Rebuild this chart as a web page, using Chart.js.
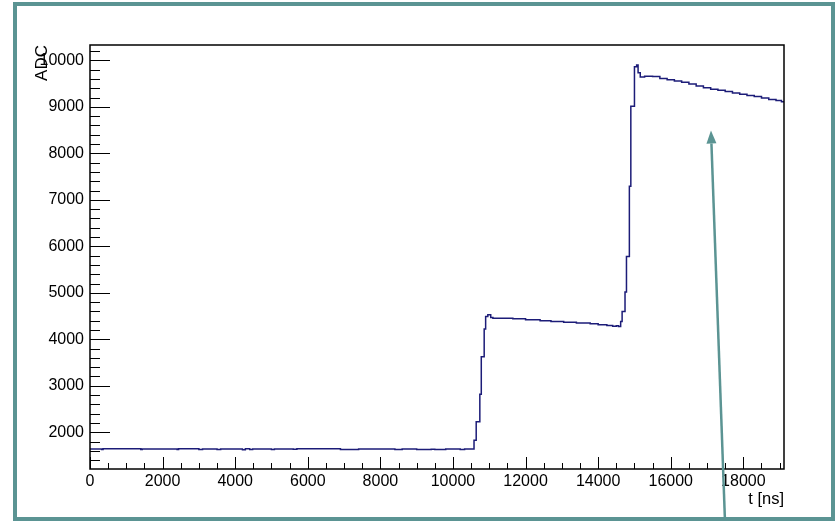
<!DOCTYPE html>
<html>
<head>
<meta charset="utf-8">
<script src="https://cdn.jsdelivr.net/npm/chart.js@4"></script>
<style>
  html, body { margin: 0; padding: 0; background: #fff; }
  #wrap { position: relative; width: 839px; height: 521px; }
  #frame {
    position: absolute; left: 13px; top: 2px; width: 814px; height: 511px;
    border: 4px solid #5b9493; pointer-events: none;
  }
</style>
</head>
<body>
<div id="wrap">
  <canvas id="adcChart" width="839" height="521"></canvas>
  <div id="frame"></div>
</div>
<script>
// bin start times (ns) and ADC value held until the next entry
var timeNs = [0, 320, 360, 1400, 1440, 2400, 2440, 3000, 3100, 3500, 3600, 4200, 4280, 4400, 4480,
  5000, 5080, 5600, 5700, 6900, 7400, 8400, 8600, 9000, 9400, 9500, 9800, 10200, 10320,
  10580, 10640, 10740, 10780, 10860, 10900, 10960, 11040, 11100, 11400, 11650, 12000, 12400,
  12700, 13050, 13400, 13780, 14000, 14240, 14400, 14500, 14560, 14620, 14660, 14740, 14780,
  14860, 14900, 15000, 15060, 15100, 15160, 15280, 15500, 15700, 15900, 16100, 16300, 16500,
  16700, 16900, 17100, 17300, 17500, 17700, 17900, 18100, 18300, 18500, 18700, 18900, 19050, 19120];
var adcValues = [1640, 1630, 1645, 1632, 1642, 1630, 1645, 1632, 1642, 1628, 1640, 1625, 1645, 1630, 1642,
  1630, 1642, 1635, 1645, 1630, 1642, 1630, 1640, 1628, 1635, 1630, 1638, 1630, 1638,
  1830, 2226, 2817, 3627, 4224, 4490, 4526, 4468, 4455, 4450, 4440, 4420, 4397,
  4385, 4368, 4350, 4332, 4315, 4295, 4280, 4290, 4274, 4380, 4597, 5015, 5782,
  7290, 9015, 9860, 9900, 9734, 9641, 9660, 9650, 9610, 9580, 9555, 9530, 9490,
  9450, 9410, 9380, 9355, 9330, 9300, 9270, 9245, 9220, 9190, 9160, 9135, 9110, 9100];

var xTicks = [0, 2000, 4000, 6000, 8000, 10000, 12000, 14000, 16000, 18000];
var yTicks = [2000, 3000, 4000, 5000, 6000, 7000, 8000, 9000, 10000];
var xRange = [0, 19120];
var yRange = [1210, 10330];
var xMinor = 500, yMinor = 200;
var xTitle = 't [ns]';
var yTitle = 'ADC';
// arrow annotation, in data units (tail, tip)
var arrowTail = [17494, 86];
var arrowTip = [17108, 8491];

var FONT = '"Liberation Sans", Arial, Helvetica, sans-serif';
var TEAL = '#5b9493';

var points = timeNs.map(function (t, i) { return { x: t, y: adcValues[i] }; });

function useTicks(list) {
  return function (scale) {
    scale.ticks = list.map(function (v) { return { value: v }; });
  };
}

function plainNumber(v) { return String(v); }

// ROOT-like frame, inside ticks, axis titles and the arrow
var rootStyle = {
  id: 'rootStyle',
  afterDraw: function (chart) {
    var ctx = chart.ctx, a = chart.chartArea;
    var xs = chart.scales.x, ys = chart.scales.y;
    var v, p;
    ctx.save();
    ctx.strokeStyle = '#000';
    ctx.lineWidth = 1.5;
    ctx.strokeRect(a.left, a.top, a.right - a.left, a.bottom - a.top);

    ctx.lineWidth = 1;
    ctx.beginPath();
    for (v = 0; v <= xRange[1]; v += xMinor) {
      p = Math.round(xs.getPixelForValue(v)) + 0.5;
      ctx.moveTo(p, a.bottom);
      ctx.lineTo(p, a.bottom - (xTicks.indexOf(v) >= 0 ? 12 : 6));
    }
    for (v = Math.ceil(yRange[0] / yMinor) * yMinor; v <= yRange[1]; v += yMinor) {
      p = Math.round(ys.getPixelForValue(v)) + 0.5;
      ctx.moveTo(a.left, p);
      ctx.lineTo(a.left + (yTicks.indexOf(v) >= 0 ? 20 : 10), p);
    }
    ctx.stroke();

    ctx.fillStyle = '#000';
    ctx.font = '16.5px ' + FONT;
    ctx.textAlign = 'right';
    ctx.textBaseline = 'middle';
    ctx.fillText(xTitle, a.right, 499);

    ctx.translate(42, a.top);
    ctx.rotate(-Math.PI / 2);
    ctx.font = '17px ' + FONT;
    ctx.textAlign = 'right';
    ctx.fillText(yTitle, 0, 0);
    ctx.restore();

    // arrow
    var x0 = xs.getPixelForValue(arrowTail[0]), y0 = ys.getPixelForValue(arrowTail[1]);
    var x1 = xs.getPixelForValue(arrowTip[0]), y1 = ys.getPixelForValue(arrowTip[1]);
    var ang = Math.atan2(y1 - y0, x1 - x0);
    var headLen = 13, headW = 5;
    var bx = x1 - headLen * Math.cos(ang), by = y1 - headLen * Math.sin(ang);
    ctx.save();
    ctx.strokeStyle = TEAL;
    ctx.fillStyle = TEAL;
    ctx.lineWidth = 2.5;
    ctx.beginPath();
    ctx.moveTo(x0, y0);
    ctx.lineTo(bx, by);
    ctx.stroke();
    ctx.beginPath();
    ctx.moveTo(x1, y1);
    ctx.lineTo(bx + headW * Math.sin(ang), by - headW * Math.cos(ang));
    ctx.lineTo(bx - headW * Math.sin(ang), by + headW * Math.cos(ang));
    ctx.closePath();
    ctx.fill();
    ctx.restore();
  }
};

new Chart(document.getElementById('adcChart'), {
  type: 'line',
  data: {
    datasets: [{
      data: points,
      stepped: 'before',
      borderColor: '#1c1c78',
      borderWidth: 1.5,
      pointRadius: 0,
      fill: false
    }]
  },
  options: {
    responsive: false,
    animation: false,
    events: [],
    layout: { padding: { left: 0, top: 45, right: 55, bottom: 0 } },
    plugins: { legend: { display: false }, tooltip: { enabled: false } },
    scales: {
      x: {
        type: 'linear',
        min: xRange[0],
        max: xRange[1],
        grid: { display: false, drawTicks: false },
        border: { display: false },
        afterBuildTicks: useTicks(xTicks),
        afterFit: function (s) { s.height = 52; },
        ticks: {
          maxRotation: 0,
          autoSkip: false,
          padding: 3,
          color: '#000',
          font: { family: FONT, size: 16 },
          callback: plainNumber
        }
      },
      y: {
        min: yRange[0],
        max: yRange[1],
        grid: { display: false, drawTicks: false },
        border: { display: false },
        afterBuildTicks: useTicks(yTicks),
        afterFit: function (s) { s.width = 90; },
        ticks: {
          autoSkip: false,
          padding: 6,
          color: '#000',
          font: { family: FONT, size: 16 },
          callback: plainNumber
        }
      }
    }
  },
  plugins: [rootStyle]
});
</script>
</body>
</html>
